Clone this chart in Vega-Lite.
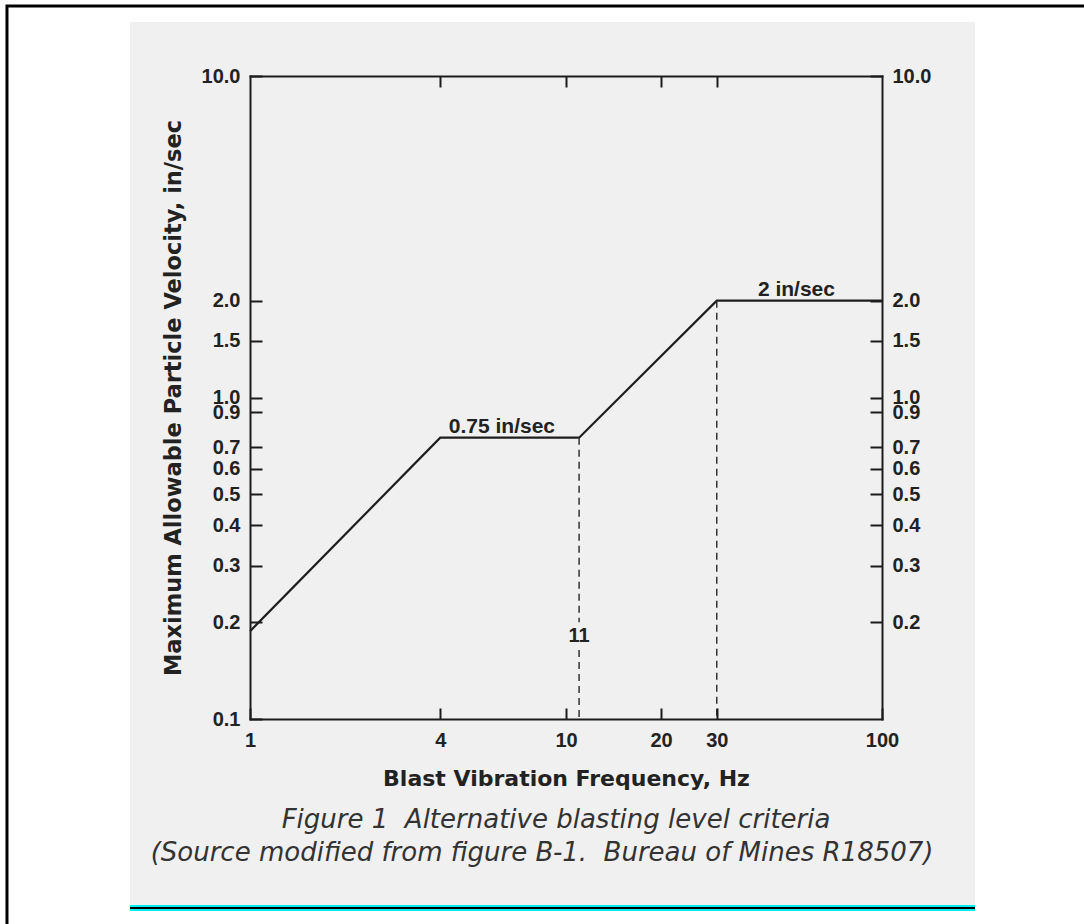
{
  "$schema": "https://vega.github.io/schema/vega-lite/v6.json",
  "width": 632,
  "height": 643,
  "autosize": {"type": "none"},
  "padding": {"left": 250, "top": 76, "right": 202, "bottom": 205},
  "background": "white",
  "config": {
    "view": {"stroke": null},
    "axis": {
      "domainColor": "#1c1c1c", "domainWidth": 2, "domainCap": "square",
      "tickColor": "#1c1c1c", "tickWidth": 2,
      "labelFont": "Liberation Sans", "labelFontSize": 20, "labelFontWeight": "bold", "labelColor": "#222",
      "labelOverlap": false, "labelFlush": false, "labelBound": false,
      "grid": false,
      "titleFont": "DejaVu Sans", "titleFontWeight": "bold", "titleColor": "#222"
    }
  },
  "datasets": {
    "curve": [
      {"f": 1, "v": 0.1875},
      {"f": 4, "v": 0.75},
      {"f": 11, "v": 0.75},
      {"f": 30, "v": 2.0},
      {"f": 100, "v": 2.0}
    ],
    "guides": [
      {"f": 11, "v": 0.75, "v2": 0.2},
      {"f": 11, "v": 0.164, "v2": 0.1},
      {"f": 30, "v": 2.0, "v2": 0.1}
    ],
    "labels": [
      {"f": 6.27, "v": 0.75, "label": "0.75 in/sec"},
      {"f": 53.6, "v": 2.0, "label": "2 in/sec"}
    ],
    "marks": [
      {"f": 11, "v": 0.181, "label": "11"}
    ],
    "caption": [
      {"f": 9.3, "v": 0.0485, "label": "Figure 1\u00a0 Alternative blasting level criteria"},
      {"f": 8.4, "v": 0.0383, "label": "(Source modified from figure B-1.\u00a0 Bureau of Mines R18507)"}
    ]
  },
  "layer": [
    {
      "data": {"values": [{}]},
      "mark": {"type": "rect", "fill": "#f0f0f0"},
      "encoding": {
        "x": {"datum": 0.4172, "type": "quantitative", "scale": {"type": "log", "domain": [1, 100], "nice": false}, "axis": null},
        "x2": {"datum": 196.99},
        "y": {"datum": 14.72, "type": "quantitative", "scale": {"type": "log", "domain": [0.1, 10], "nice": false}, "axis": null},
        "y2": {"datum": 0.02639}
      }
    },
    {
      "data": {"values": [{}]},
      "mark": {"type": "rect", "filled": false, "stroke": "#000000", "strokeWidth": 3},
      "encoding": {
        "x": {"datum": 0.1702, "type": "quantitative", "scale": {"type": "log", "domain": [1, 100], "nice": false}, "axis": null},
        "x2": {"datum": 455},
        "y": {"datum": 16.51, "type": "quantitative", "scale": {"type": "log", "domain": [0.1, 10], "nice": false}, "axis": null},
        "y2": {"datum": 0.02128}
      }
    },
    {
      "data": {"values": [{}]},
      "mark": {"type": "rule", "stroke": "#00f0f0", "strokeWidth": 6},
      "encoding": {
        "x": {"datum": 0.4172, "type": "quantitative", "scale": {"type": "log", "domain": [1, 100], "nice": false}, "axis": null},
        "x2": {"datum": 196.99},
        "y": {"datum": 0.02584, "type": "quantitative", "scale": {"type": "log", "domain": [0.1, 10], "nice": false}, "axis": null}
      }
    },
    {
      "data": {"values": [{}]},
      "mark": {"type": "rule", "stroke": "#000000", "strokeWidth": 2},
      "encoding": {
        "x": {"datum": 0.4172, "type": "quantitative", "scale": {"type": "log", "domain": [1, 100], "nice": false}, "axis": null},
        "x2": {"datum": 196.99},
        "y": {"datum": 0.02584, "type": "quantitative", "scale": {"type": "log", "domain": [0.1, 10], "nice": false}, "axis": null}
      }
    },
    {
      "data": {"name": "curve"},
      "mark": {"type": "line", "stroke": "#1e1e1e", "strokeWidth": 2.2},
      "encoding": {
        "x": {
          "field": "f", "type": "quantitative",
          "scale": {"type": "log", "domain": [1, 100], "nice": false},
          "axis": {
            "orient": "bottom", "values": [1, 4, 10, 20, 30, 100], "format": "~g", "zindex": 1,
            "title": "Blast Vibration Frequency, Hz", "titleFontSize": 22, "titlePadding": 18,
            "tickSize": -11, "labelPadding": 22
          }
        },
        "y": {
          "field": "v", "type": "quantitative",
          "scale": {"type": "log", "domain": [0.1, 10], "nice": false},
          "axis": {
            "orient": "left", "values": [0.1, 0.2, 0.3, 0.4, 0.5, 0.6, 0.7, 0.9, 1, 1.5, 2, 10], "format": ".1f", "zindex": 1,
            "title": "Maximum Allowable Particle Velocity, in/sec", "titleFontSize": 22.5, "titlePadding": 16,
            "tickSize": -12, "labelPadding": 22
          }
        }
      }
    },
    {
      "data": {"name": "guides"},
      "mark": {"type": "rule", "stroke": "#333333", "strokeWidth": 1.5, "strokeDash": [7, 5]},
      "encoding": {
        "x": {
          "field": "f", "type": "quantitative",
          "scale": {"type": "log", "domain": [1, 100], "nice": false},
          "axis": {"orient": "top", "values": [4, 10, 20, 30], "labels": false, "title": null, "tickSize": -11, "zindex": 1}
        },
        "y": {
          "field": "v", "type": "quantitative",
          "scale": {"type": "log", "domain": [0.1, 10], "nice": false},
          "axis": {
            "orient": "right", "values": [0.2, 0.3, 0.4, 0.5, 0.6, 0.7, 0.9, 1, 1.5, 2, 10], "format": ".1f", "zindex": 1,
            "title": null, "tickSize": -12, "labelPadding": 22
          }
        },
        "y2": {"field": "v2"}
      }
    },
    {
      "data": {"name": "labels"},
      "mark": {"type": "text", "font": "Liberation Sans", "fontSize": 21, "fontWeight": "bold", "fill": "#222", "baseline": "alphabetic", "align": "center", "dy": -5},
      "encoding": {
        "x": {"field": "f", "type": "quantitative", "scale": {"type": "log", "domain": [1, 100], "nice": false}, "axis": null},
        "y": {"field": "v", "type": "quantitative", "scale": {"type": "log", "domain": [0.1, 10], "nice": false}, "axis": null},
        "text": {"field": "label"}
      }
    },
    {
      "data": {"name": "marks"},
      "mark": {"type": "text", "font": "Liberation Sans", "fontSize": 20, "fontWeight": "bold", "fill": "#222", "baseline": "middle", "align": "center"},
      "encoding": {
        "x": {"field": "f", "type": "quantitative", "scale": {"type": "log", "domain": [1, 100], "nice": false}, "axis": null},
        "y": {"field": "v", "type": "quantitative", "scale": {"type": "log", "domain": [0.1, 10], "nice": false}, "axis": null},
        "text": {"field": "label"}
      }
    },
    {
      "data": {"name": "caption"},
      "mark": {"type": "text", "font": "DejaVu Sans", "fontSize": 26, "fontStyle": "italic", "fill": "#333", "baseline": "middle", "align": "center"},
      "encoding": {
        "x": {"field": "f", "type": "quantitative", "scale": {"type": "log", "domain": [1, 100], "nice": false}, "axis": null},
        "y": {"field": "v", "type": "quantitative", "scale": {"type": "log", "domain": [0.1, 10], "nice": false}, "axis": null},
        "text": {"field": "label"}
      }
    }
  ],
  "resolve": {"axis": {"x": "independent", "y": "independent"}}
}
